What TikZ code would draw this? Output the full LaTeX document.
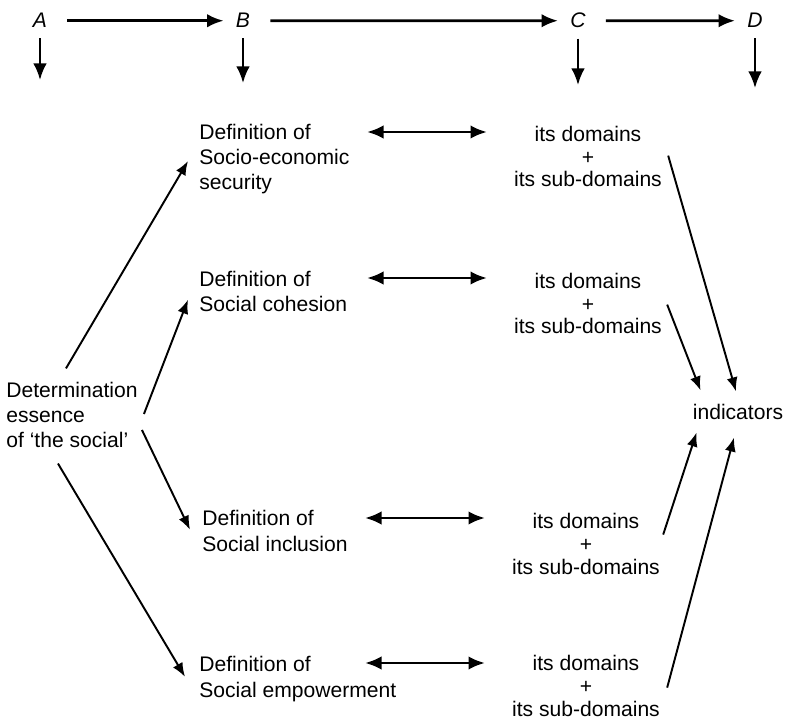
\documentclass[tikz,border=0pt]{standalone}
\usepackage{fontspec}
\setmainfont{Liberation Sans}
\usetikzlibrary{arrows.meta,positioning,calc}

\begin{document}
\begin{tikzpicture}[
            x=0.02cm,y=-0.02cm,
            txt/.style={inner sep=0,font=\fontsize{12}{14.5}\selectfont},
            defn/.style={txt,align=left,anchor=base west},
            doms/.style={txt,align=center,anchor=base,font=\fontsize{12}{13}\selectfont},
            letter/.style={inner sep=0,anchor=base,font=\fontsize{12}{14}\selectfont\itshape},
            flow/.style={draw,->,line width=1.6pt,shorten <=0.4cm,shorten >=0.24cm},
            drop/.style={draw,->,line width=1.3pt,shorten <=0.2cm},
            twoway/.style={draw,<->,line width=1.6pt},
            feed/.style={draw,->,line width=1.1pt,>={Latex[length=2.8mm,width=2.2mm]}},
            >={Latex[length=3.3mm,width=2.7mm]}
          ]
          \useasboundingbox (0,0) rectangle (788,719);

          %steps
          \node[letter] (A) at (40,28) {A};
          \node[letter] (B) at (243,28) {B};
          \node[letter] (C) at (578,28) {C};
          \node[letter] (D) at (755,28) {D};
          \coordinate (Aend) at (40,80);
          \coordinate (Bend) at (243,83);
          \coordinate (Cend) at (578,85);
          \coordinate (Dend) at (755,88);

          %definitions
          \node[defn] (determ) at (6,448) {Determination\\essence\\of `the social'};
          \node[defn] (socio) at (199,190) {Definition of\\Socio-economic\\security};
          \node[defn] (cohes) at (199,312) {Definition of\\Social cohesion};
          \node[defn] (inclu) at (202,551) {Definition of\\Social inclusion};
          \node[defn] (empow) at (199,697) {Definition of\\Social empowerment};

          %domains
          \node[doms] (dom1) at (588,187) {its domains\\+\\its sub-domains};
          \node[doms] (dom2) at (588,334) {its domains\\+\\its sub-domains};
          \node[doms] (dom3) at (586,574) {its domains\\+\\its sub-domains};
          \node[doms] (dom4) at (586,716) {its domains\\+\\its sub-domains};
          \node[txt,anchor=base] (indic) at (738,420) {indicators};

          \path
          (A) edge[flow] (B)
          (B) edge[flow] (C)
          (C) edge[flow] (D)
          (A) edge[drop] (Aend)
          (B) edge[drop] (Bend)
          (C) edge[drop] (Cend)
          (D) edge[drop] (Dend)
          ;

          %definition <-> domains
          \draw[twoway] ($(socio.base west)+(168,-58)$) -- ($(dom1.base)+(-101,-55)$);
          \draw[twoway] ($(cohes.base west)+(168,-34)$) -- ($(dom2.base)+(-101,-56)$);
          \draw[twoway] ($(inclu.base west)+(163,-33)$) -- ($(dom3.base)+(-101,-56)$);
          \draw[twoway] ($(empow.base west)+(166,-34)$) -- ($(dom4.base)+(-101,-53)$);

          %essence -> definitions
          \draw[feed] ($(determ.north)+(-6,-13)$) -- ($(socio.west)+(-11,2)$);
          \draw[feed] ($(determ.east)+(6,-1)$) -- ($(cohes.west)+(-11,8)$);
          \draw[feed] ($(determ.east)+(4,15)$) -- ($(inclu.west)+(-12,-1)$);
          \draw[feed] ($(determ.south)+(-14,15)$) -- ($(empow.west)+(-14,-2)$);

          %domains -> indicators
          \draw[feed] ($(dom1.east)+(6,-1)$) -- ($(indic.north)+(-2,-13)$);
          \draw[feed] ($(dom2.east)+(5,1)$) -- ($(indic.north west)+(8,-14)$);
          \draw[feed] ($(dom3.east)+(3,-9)$) -- ($(indic.south west)+(4,12)$);
          \draw[feed] ($(dom4.east)+(7,2)$) -- ($(indic.south)+(-4,17)$);

      \end{tikzpicture}
\end{document}
